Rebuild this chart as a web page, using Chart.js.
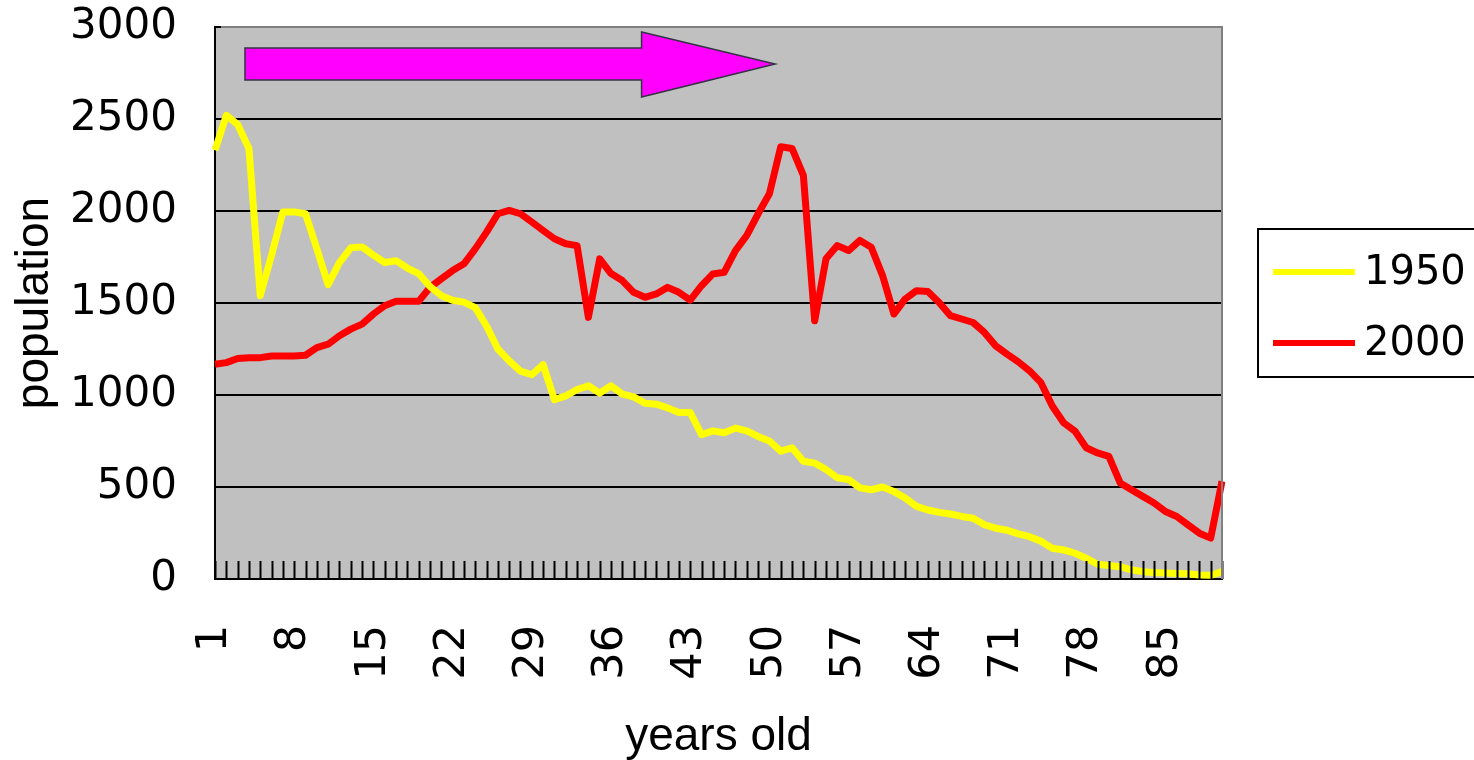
<!DOCTYPE html>
<html><head><meta charset="utf-8">
<script src="https://cdn.jsdelivr.net/npm/chart.js@4.4.1/dist/chart.umd.min.js"></script>
<style>html,body{margin:0;padding:0;background:#fff;overflow:hidden}#wrap{width:1474px;height:760px;position:relative}</style>
</head><body><div id="wrap"><canvas id="c" width="1474" height="760"></canvas></div>
<script>
const ages = ["1","2","3","4","5","6","7","8","9","10","11","12","13","14","15","16","17","18","19","20",
"21","22","23","24","25","26","27","28","29","30","31","32","33","34","35","36","37","38","39","40",
"41","42","43","44","45","46","47","48","49","50","51","52","53","54","55","56","57","58","59","60",
"61","62","63","64","65","66","67","68","69","70","71","72","73","74","75","76","77","78","79","80",
"81","82","83","84","85","86","87","88","89","90"];
const shownTickLabels = ["1","8","15","22","29","36","43","50","57","64","71","78","85"];
const yTicks = [0,500,1000,1500,2000,2500,3000];
const pop1950 = [2330,2520,2470,2340,1540,1760,1995,1995,1985,1795,
1600,1720,1800,1805,1760,1720,1730,1690,1660,1590,
1540,1515,1505,1475,1375,1250,1185,1130,1110,1165,
975,995,1030,1050,1010,1050,1005,990,955,950,
930,905,905,785,805,795,820,805,775,750,
695,713,640,630,595,550,540,495,485,500,
475,440,395,375,362,353,340,330,295,276,
265,245,230,205,167,158,140,113,80,73,
67,50,40,35,33,30,28,22,20,40];
const pop2000 = [1167,1176,1198,1203,1203,1212,1212,1212,1216,1258,
1276,1322,1358,1385,1440,1485,1509,1509,1509,1585,
1631,1676,1713,1794,1885,1985,2003,1985,1940,1894,
1849,1822,1812,1422,1740,1660,1622,1558,1531,1549,
1585,1558,1516,1594,1658,1667,1785,1867,1985,2094,
2349,2340,2194,1403,1740,1812,1785,1840,1803,1649,
1440,1522,1567,1562,1503,1431,1413,1394,1340,1267,
1222,1180,1131,1067,940,849,804,713,685,667,
522,485,449,413,367,340,294,249,222,531];
const seriesNames = ["1950","2000"];
const seriesColors = ["#FFFF00","#FF0000"];
// arrow annotation in data units: [category index, value]
const arrowTail = [2.65, 2886, 2712];
const arrowNeck = [37.7, 2973, 2620];
const arrowTip = [49.5, 2799];

const deco = {
  id:'deco',
  beforeDraw(chart){
    const {ctx, chartArea:a} = chart;
    ctx.save(); ctx.fillStyle='#C0C0C0';
    ctx.fillRect(a.left,a.top,a.right-a.left,a.bottom-a.top); ctx.restore();
  },
  afterDatasetsDraw(chart){
    const {ctx, chartArea:a, scales:{x,y}} = chart;
    ctx.save();
    // inner tick marks
    ctx.strokeStyle='#000'; ctx.lineWidth=2;
    for(let i=0;i<ages.length;i++){
      const px=Math.round(x.getPixelForValue(i))+0.5;
      ctx.beginPath(); ctx.moveTo(px,a.bottom-18); ctx.lineTo(px,a.bottom); ctx.stroke();
    }
    // grey top/right border
    ctx.strokeStyle='#808080'; ctx.lineWidth=2;
    ctx.beginPath(); ctx.moveTo(a.left,a.top); ctx.lineTo(a.right,a.top); ctx.lineTo(a.right,a.bottom); ctx.stroke();
    ctx.strokeStyle='#000';
    ctx.beginPath(); ctx.moveTo(a.left,a.top); ctx.lineTo(a.left+6,a.top); ctx.stroke();
    // arrow
    const X=v=>x.getPixelForValue(v), Y=v=>y.getPixelForValue(v);
    ctx.beginPath();
    ctx.moveTo(X(arrowTail[0]),Y(arrowTail[1]));
    ctx.lineTo(X(arrowNeck[0]),Y(arrowTail[1]));
    ctx.lineTo(X(arrowNeck[0]),Y(arrowNeck[1]));
    ctx.lineTo(X(arrowTip[0]),Y(arrowTip[1]));
    ctx.lineTo(X(arrowNeck[0]),Y(arrowNeck[2]));
    ctx.lineTo(X(arrowNeck[0]),Y(arrowTail[2]));
    ctx.lineTo(X(arrowTail[0]),Y(arrowTail[2]));
    ctx.closePath();
    ctx.fillStyle='#FF00FF'; ctx.fill();
    ctx.strokeStyle='#333344'; ctx.lineWidth=1.5; ctx.stroke();
    // legend
    ctx.strokeStyle='#000'; ctx.lineWidth=2;
    ctx.strokeRect(1258,229,230,148);
    ctx.font='40px "DejaVu Sans"'; ctx.textBaseline='middle'; ctx.fillStyle='#000';
    chart.data.datasets.forEach((ds,k)=>{
      const ly = 272 + k*71;
      ctx.strokeStyle=ds.borderColor; ctx.lineWidth=6;
      ctx.beginPath(); ctx.moveTo(1273,ly); ctx.lineTo(1355,ly); ctx.stroke();
      ctx.fillText(ds.label,1364,ly+2);
    });
    ctx.restore();
  }
};

new Chart(document.getElementById('c'),{
  type:'line',
  data:{labels:ages,datasets:[
    {label:seriesNames[0],data:pop1950,borderColor:seriesColors[0],backgroundColor:seriesColors[0],borderWidth:7,pointRadius:0,tension:0,borderJoinStyle:'round'},
    {label:seriesNames[1],data:pop2000,borderColor:seriesColors[1],backgroundColor:seriesColors[1],borderWidth:7,pointRadius:0,tension:0,borderJoinStyle:'round'}
  ]},
  options:{
    responsive:false,animation:false,
    layout:{padding:{top:27,right:252,left:0,bottom:0}},
    plugins:{legend:{display:false},tooltip:{enabled:false}},
    scales:{
      x:{
        type:'category',offset:false,
        grid:{display:false,drawTicks:false},
        border:{display:true,color:'#000',width:2},
        ticks:{autoSkip:false,minRotation:90,maxRotation:90,padding:46,color:'#000',
          font:{family:'DejaVu Sans',size:43},
          callback:function(v,i){const l=ages[i];return shownTickLabels.includes(l)?l:'';}},
        title:{display:true,text:'years old',color:'#000',font:{family:'Liberation Sans',size:46,lineHeight:1},padding:{top:0,bottom:0}},
        afterFit(s){s.height=181;s.paddingLeft=0;s.paddingRight=0;}
      },
      y:{
        min:0,max:3000,
        afterBuildTicks(s){s.ticks=yTicks.map(v=>({value:v}));},
        grid:{color:c=>(c.tick&&(c.tick.value===3000||c.tick.value===0))?'rgba(0,0,0,0)':'#000',lineWidth:2,drawTicks:false},
        border:{display:true,color:'#000',width:2},
        ticks:{padding:38,color:'#000',font:{family:'DejaVu Sans',size:42},callback:v=>String(v)},
        title:{display:true,text:'population',color:'#000',font:{family:'Liberation Sans',size:46,lineHeight:1},padding:{top:12,bottom:0}},
        afterFit(s){s.width=215;s.paddingTop=0;s.paddingBottom=0;}
      }
    }
  },
  plugins:[deco]
});
</script></body></html>
